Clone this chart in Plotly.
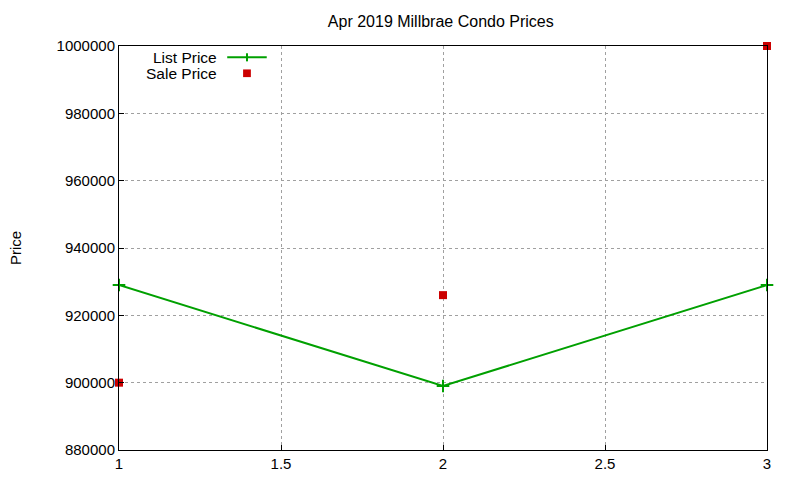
import plotly.graph_objects as go

# listing index and prices
listing = [1, 2, 3]
list_price = [929000, 899000, 929000]
sale_price = [900000, 926000, 1000000]

green = "rgb(0,160,0)"
red = "rgb(204,0,0)"
font = "Liberation Sans, Arial, sans-serif"

fig = go.Figure()

fig.add_trace(go.Scatter(
    x=listing, y=list_price, name="List Price", mode="lines+markers",
    line=dict(color=green, width=2),
    marker=dict(symbol="cross-thin", size=9, line=dict(color=green, width=2)),
    cliponaxis=False,
))
fig.add_trace(go.Scatter(
    x=listing, y=sale_price, name="Sale Price", mode="markers",
    marker=dict(symbol="square", size=8, color=red),
    cliponaxis=False,
))

# gnuplot-style key: text on the left, sample on the right
key_rows = [("List Price", 0.972), ("Sale Price", 0.932)]
for label, yk in key_rows:
    fig.add_annotation(x=0.153, y=yk, xref="paper", yref="paper", text=label,
                       showarrow=False, xanchor="right", yanchor="middle",
                       borderpad=0,
                       font=dict(family=font, size=15.5, color="black"))
fig.add_shape(type="line", xref="paper", yref="paper",
              x0=0.167, x1=0.228, y0=0.972, y1=0.972,
              line=dict(color=green, width=2))
fig.add_shape(type="line", xref="paper", yref="paper",
              x0=0.1975, x1=0.1975, y0=0.962, y1=0.982,
              line=dict(color=green, width=2))
fig.add_shape(type="rect", xref="paper", yref="paper",
              x0=0.1915, x1=0.2035, y0=0.923, y1=0.942,
              line=dict(width=0), fillcolor=red)

# y axis label
fig.add_annotation(x=-0.1605, y=0.5, xref="paper", yref="paper", text="Price",
                   showarrow=False, textangle=-90, xanchor="center", yanchor="middle",
                   borderpad=0,
                   font=dict(family=font, size=15, color="black"))

axis_style = dict(
    showline=True, linecolor="black", linewidth=1, mirror=True,
    ticks="inside", ticklen=5, tickcolor="black",
    showgrid=True, gridcolor="#a0a0a0", griddash="dot", gridwidth=1,
    zeroline=False, tickfont=dict(family=font, size=15, color="black"),
)

fig.update_xaxes(range=[1, 3], dtick=0.5, **axis_style)
fig.update_yaxes(range=[880000, 1000000], dtick=20000, tickformat="d", **axis_style)

fig.update_layout(
    width=800, height=480,
    margin=dict(l=111, r=41, t=38, b=38),
    plot_bgcolor="white", paper_bgcolor="white",
    showlegend=False,
    title=dict(text="Apr 2019 Millbrae Condo Prices", x=0.541, xanchor="center",
               y=0.973, yanchor="middle",
               font=dict(family=font, size=16, color="black")),
    font=dict(family=font, size=15, color="black"),
)

fig.write_html("out.html")
